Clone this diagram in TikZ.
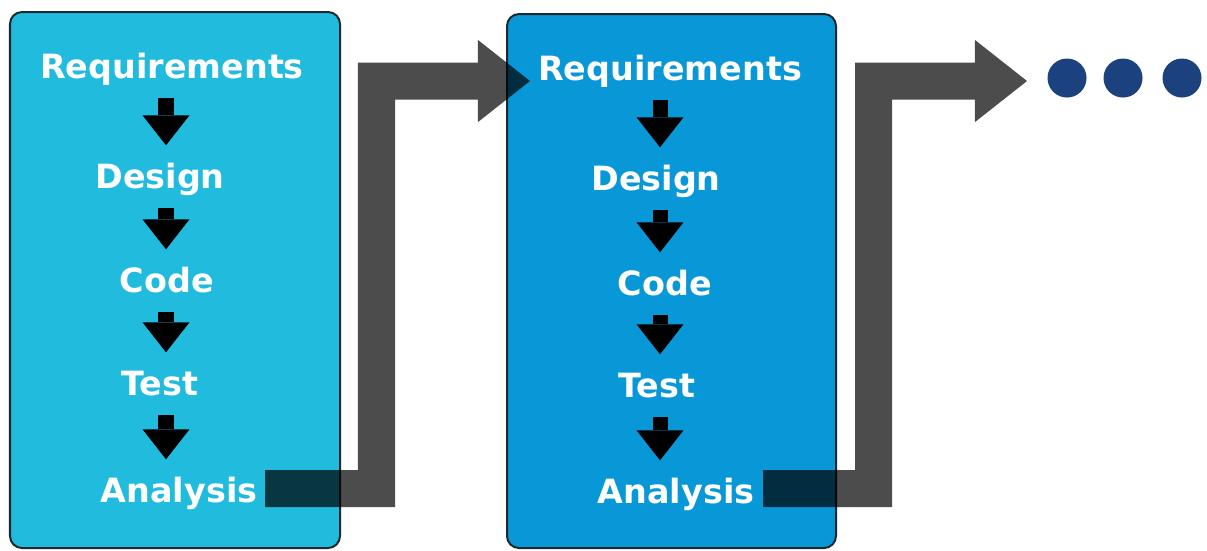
\documentclass[tikz,border=0pt]{standalone}
\usepackage{fontspec}
\setmainfont{DejaVu Sans}
\usetikzlibrary{arrows.meta}
\definecolor{skyblue}{RGB}{32,187,221}
\definecolor{oceanblue}{RGB}{8,152,216}
\definecolor{boxline}{RGB}{26,40,48}
\definecolor{dotblue}{RGB}{27,66,126}

\tikzset{
  stagebox/.style={draw=boxline, line width=0.02cm, rounded corners=0.12cm},
  phase/.style={text=white, font=\fontsize{9.5}{11}\selectfont\bfseries, inner sep=0pt,
                text height=0.25cm, text depth=0.08cm},
  flowarrow/.style={black, line width=0.15cm,
                    -{Triangle[width=0.47cm,length=0.30cm,line width=0pt]},
                    shorten <=0.11cm, shorten >=0.17cm},
  looparrow/.style={black, line width=0.37cm, line join=miter,
                    -{Triangle[width=0.82cm,length=0.52cm,line width=0pt]}},
}

\begin{document}
\begin{tikzpicture}[x=0.01cm, y=-0.01cm]
  \useasboundingbox (0,0) rectangle (1207,550);
  % First cycle
  \filldraw[stagebox, fill=skyblue]   (10,12)  rectangle (340,548);
  \node[phase] (req1)  at (172,69.5)  {Requirements};
  \node[phase] (des1)  at (160,179.5) {Design};
  \node[phase] (code1) at (167,283.5) {Code};
  \node[phase] (test1) at (160,386.5) {Test};
  \node[phase] (ana1)  at (179,493.5) {Analysis};
  \coordinate (col1) at (166,0);
  % Second cycle
  \filldraw[stagebox, fill=oceanblue] (507,14) rectangle (836,548);
  \node[phase] (req2)  at (670,71.5)  {Requirements};
  \node[phase] (des2)  at (656,181.5) {Design};
  \node[phase] (code2) at (665,286.5) {Code};
  \node[phase] (test2) at (657,388.5) {Test};
  \node[phase] (ana2)  at (676,494.5) {Analysis};
  \coordinate (col2) at (660,0);
  % Steps inside each cycle
  \foreach \a/\b in {req/des, des/code, code/test, test/ana} {
    \draw[flowarrow] (\a1.south -| col1) -- (\b1.north -| col1);
    \draw[flowarrow] (\a2.south -| col2) -- (\b2.north -| col2);
  }
  % Feedback into the next cycle
  \coordinate (out1)  at (265,488.5);
  \coordinate (turn1) at (376.5,81);
  \coordinate (in2)   at (530,81);
  \coordinate (out2)  at (763,488.5);
  \coordinate (turn2) at (873.5,81);
  \coordinate (in3)   at (1027,81);
  \begin{scope}[transparency group, opacity=0.7]
    \draw[looparrow] (out1) -| (turn1) -- (in2);
    \draw[looparrow] (out2) -| (turn2) -- (in3);
  \end{scope}
  % And so on
  \foreach \x in {1067,1123,1182}
    \fill[dotblue] (\x,78) circle[radius=0.195cm];
\end{tikzpicture}
\end{document}
